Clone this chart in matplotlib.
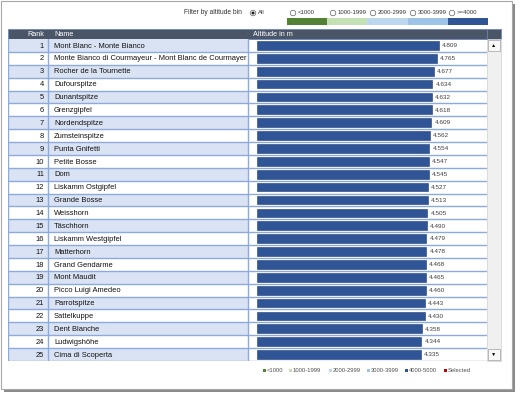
import matplotlib.pyplot as plt
from matplotlib.patches import Rectangle, Circle

ranks = list(range(1, 26))
names = [
    "Mont Blanc - Monte Bianco",
    "Monte Bianco di Courmayeur - Mont Blanc de Courmayer",
    "Rocher de la Tournette",
    "Dufourspitze",
    "Dunantspitze",
    "Grenzgipfel",
    "Nordendspitze",
    "Zumsteinspitze",
    "Punta Gnifetti",
    "Petite Bosse",
    "Dom",
    "Liskamm Ostgipfel",
    "Grande Bosse",
    "Weisshorn",
    "Täschhorn",
    "Liskamm Westgipfel",
    "Matterhorn",
    "Grand Gendarme",
    "Mont Maudit",
    "Picco Luigi Amedeo",
    "Parrotspitze",
    "Sattelkuppe",
    "Dent Blanche",
    "Ludwigshöhe",
    "Cima di Scoperta",
]
altitudes = [4809, 4765, 4677, 4634, 4632, 4618, 4609, 4562, 4554, 4547,
             4545, 4527, 4513, 4505, 4490, 4479, 4478, 4468, 4465, 4460,
             4443, 4430, 4358, 4344, 4335]

bins = ["<1000", "1000-1999", "2000-2999", "3000-3999", ">=4000"]
legend_bins = ["<1000", "1000-1999", "2000-2999", "3000-3999", "4000-5000", "Selected"]
bin_colors = ["#548235", "#c5e0b4", "#bdd7ee", "#9dc3e6", "#2f5597", "#c00000"]

W, H = 520, 395
HEADER = "#4a5668"
BAND = "#dae3f3"
LINE = "#8eaadb"
BAR = "#2f5597"
TXT = "#111111"

plt.rcParams['font.family'] = ['Liberation Sans', 'DejaVu Sans']

fig = plt.figure(figsize=(W / 100, H / 100), dpi=100)
fig.patch.set_facecolor("white")


def px_axes(x0, y0, x1, y1):
    return fig.add_axes([x0 / W, 1 - y1 / H, (x1 - x0) / W, (y1 - y0) / H])


# background canvas in pixel coords
bg = px_axes(0, 0, W, H)
bg.set_xlim(0, W)
bg.set_ylim(H, 0)
bg.axis("off")
# frame with shadow
bg.add_patch(Rectangle((4, 4), 511, 388, facecolor="#8a8a8a", edgecolor="none"))
bg.add_patch(Rectangle((1, 1), 511, 388, facecolor="white", edgecolor="#a8a8a8", lw=0.8))

# filter radio buttons
bg.text(242, 13, "Filter by altitude bin", fontsize=4.8, color="#333333", ha="right", va="center")
bg.add_patch(Circle((253, 13), 2.8, facecolor="white", edgecolor="#606060", lw=0.5))
bg.add_patch(Circle((253, 13), 1.5, facecolor="#202020", edgecolor="none"))
bg.text(258, 13, "All", fontsize=4.3, color="#333333", va="center")
radio_x = [293, 333, 373, 413, 452]
for i, b in enumerate(bins):
    bg.add_patch(Circle((radio_x[i], 13), 2.8, facecolor="white", edgecolor="#606060", lw=0.5))
    bg.text(radio_x[i] + 5, 13, b, fontsize=4.3, color="#333333", va="center")
    bg.add_patch(Rectangle((287 + 40.2 * i, 18), 40.2, 7, facecolor=bin_colors[i], edgecolor="none"))

# header row
bg.add_patch(Rectangle((8, 29), 493, 10, facecolor=HEADER, edgecolor="#6f86b8", lw=0.6))
bg.text(44, 34, "Rank", fontsize=5.2, color="white", ha="right", va="center")
bg.text(54, 34, "Name", fontsize=5.2, color="white", va="center")
bg.text(253, 34, "Altitude in m", fontsize=5.2, color="white", va="center")
bg.plot([487, 487], [29, 39], color="#6f86b8", lw=0.6)

# scrollbar
bg.add_patch(Rectangle((487, 39), 14, 322, facecolor="#f0f0f0", edgecolor="#d0d0d0", lw=0.5))
bg.add_patch(Rectangle((488, 40), 12, 11, facecolor="#f8f8f8", edgecolor="#a0a0a0", lw=0.5))
bg.add_patch(Rectangle((488, 349), 12, 11, facecolor="#f8f8f8", edgecolor="#a0a0a0", lw=0.5))
bg.text(494, 45.5, "\u25b2", fontsize=3.8, ha="center", va="center", color="black")
bg.text(494, 354.5, "\u25bc", fontsize=3.8, ha="center", va="center", color="black")

# bottom legend
leg_x = [263, 289, 329, 367, 405, 444]
for i, b in enumerate(legend_bins):
    bg.add_patch(Rectangle((leg_x[i], 368.5), 3, 3, facecolor=bin_colors[i], edgecolor="none"))
    bg.text(leg_x[i] + 4, 370, b, fontsize=4.2, color="#505050", va="center")

# table (rank + name columns)
tab = px_axes(8, 39, 487, 361)
tab.set_xlim(8, 487)
tab.set_ylim(len(ranks), 0)
tab.axis("off")
for i, (r, n) in enumerate(zip(ranks, names)):
    if i % 2 == 0:
        tab.add_patch(Rectangle((8, i), 240, 1, facecolor=BAND, edgecolor="none"))
    tab.text(44, i + 0.55, str(r), fontsize=5.4, color=TXT, ha="right", va="center")
    tab.text(54, i + 0.55, n, fontsize=5.4, color=TXT, va="center")
    tab.plot([8, 487], [i + 1, i + 1], color=LINE, lw=1.0)
tab.plot([8.4, 8.4], [0, len(ranks)], color=LINE, lw=1.0)
tab.plot([48, 48], [0, len(ranks)], color=LINE, lw=1.0)
tab.plot([248, 248], [0, len(ranks)], color=LINE, lw=1.0)

# altitude bars
ax = px_axes(248, 39, 487, 361)
ax.set_xlim(-240, 6080)
ax.set_ylim(len(ranks) - 0.5, -0.5)
ax.axis("off")
pos = [r - 1 for r in ranks]
ax.barh(pos, altitudes, height=0.68, color=BAR, edgecolor="#203d70", lw=0.4)
for p, a in zip(pos, altitudes):
    lbl = f"{a:,}".replace(",", ".")
    ax.text(a + 80, p + 0.02, lbl, fontsize=4.6, color="#404040", va="center")

fig.savefig("out.png", dpi=100)
